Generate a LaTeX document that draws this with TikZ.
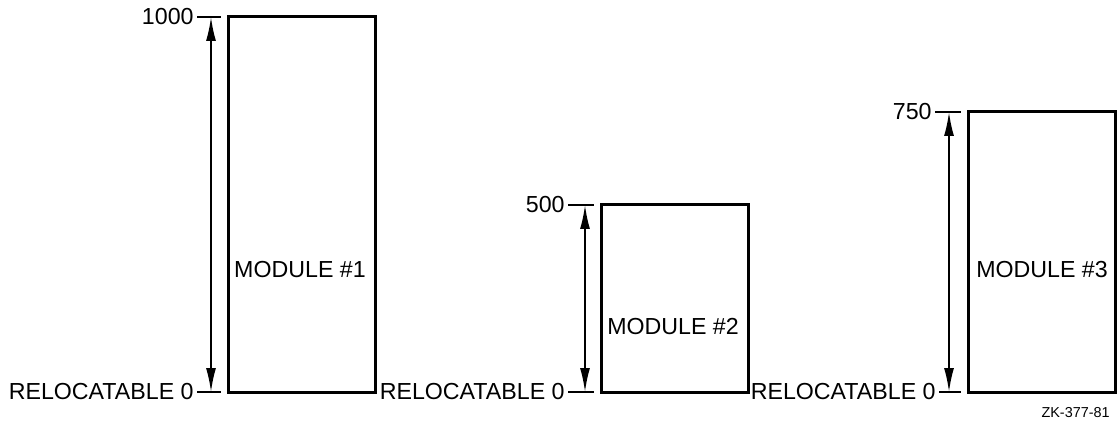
\documentclass[tikz,border=0pt]{standalone}
\usepackage{fontspec}
\setmainfont{Liberation Sans}
\usetikzlibrary{arrows.meta, positioning}

\begin{document}
\begin{tikzpicture}[
    x=0.5pt, y=-0.5pt,
    modbox/.style={
      rectangle, draw=black, line width=1.5pt, minimum width=73.5pt,
      inner sep=0pt
    },
    txt/.style={font=\fontsize{11.6}{14}\selectfont, inner sep=0pt},
    lbl/.style={txt, anchor=east},
    tick/.style={line width=0.9pt},
    dim/.style={{Latex[length=12pt, width=5pt]}-{Latex[length=12pt, width=5pt]}, line width=0.9pt}
]
  \useasboundingbox (0,0) rectangle (1118,422);

  % Module boxes
  \node[modbox, minimum height=187.5pt] (mod1) at (301.5,204.5) {};
  \node[modbox, minimum height=93.5pt]  (mod2) at (674.5,298.5) {};
  \node[modbox, minimum height=140pt]   (mod3) at (1042,252)    {};

  \node[txt] (name1) at (300,270)  {MODULE \#1};
  \node[txt] (name2) at (673,327)  {MODULE \#2};
  \node[txt] (name3) at (1042,270) {MODULE \#3};

  % Size labels
  \node[lbl] (hi1) at (194,17)  {1000};
  \node[lbl] (lo1) at (194,392) {RELOCATABLE 0};
  \node[lbl] (hi2) at (565,205) {500};
  \node[lbl] (lo2) at (565,392) {RELOCATABLE 0};
  \node[lbl] (hi3) at (932,112) {750};
  \node[lbl] (lo3) at (936,392) {RELOCATABLE 0};

  % Tick ends and arrow ends
  \coordinate (th1) at (221,17);   \coordinate (tl1) at (221,392);
  \coordinate (th2) at (594,205);  \coordinate (tl2) at (594,392);
  \coordinate (th3) at (961,112);  \coordinate (tl3) at (961,392);
  \coordinate (ah1) at (211,17);   \coordinate (al1) at (211,392);
  \coordinate (ah2) at (585,205);  \coordinate (al2) at (585,392);
  \coordinate (ah3) at (949,112);  \coordinate (al3) at (949,392);

  % Ticks
  \draw[tick] (hi1.east) ++(3,0) -- (th1);
  \draw[tick] (lo1.east) ++(3,0) -- (tl1);
  \draw[tick] (hi2.east) ++(3,0) -- (th2);
  \draw[tick] (lo2.east) ++(3,0) -- (tl2);
  \draw[tick] (hi3.east) ++(3,0) -- (th3);
  \draw[tick] (lo3.east) ++(3,0) -- (tl3);

  % Arrows
  \draw[dim] (ah1) -- (al1);
  \draw[dim] (ah2) -- (al2);
  \draw[dim] (ah3) -- (al3);

  \node[font=\fontsize{7.2}{8}\selectfont, anchor=east, inner sep=0pt] (fig) at (1110,413) {ZK-377-81};
\end{tikzpicture}
\end{document}
